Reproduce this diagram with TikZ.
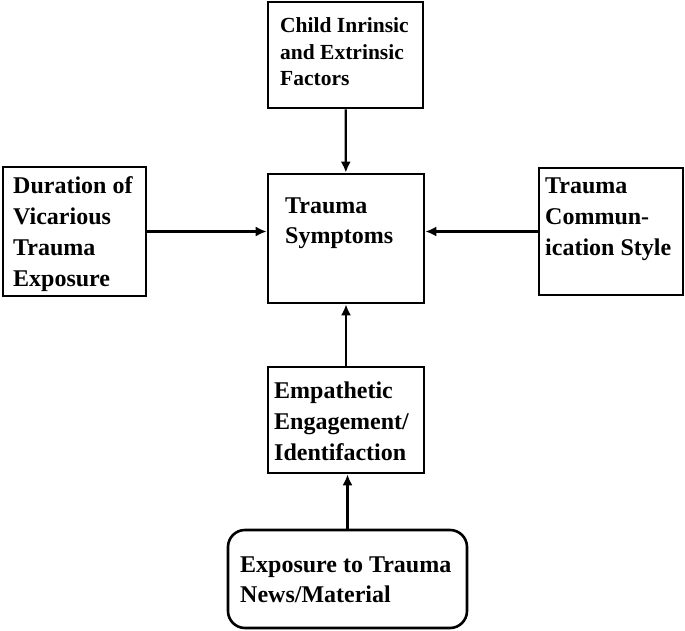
\documentclass[tikz,border=0pt]{standalone}
\usepackage{fontspec}
\setmainfont{Liberation Serif}
\usetikzlibrary{arrows.meta}
\begin{document}
\begin{tikzpicture}[x=1pt,y=-1pt,
  box/.style={draw, line width=2.6pt, inner sep=0pt},
  lbl/.style={inner sep=0pt, align=left, anchor=base west, font=\bfseries\fontsize{24}{31}\selectfont},
  arr/.style={line width=2.2pt, -{Latex[length=11pt,width=10pt]}}]
\useasboundingbox (0,0) rectangle (685,631);
% boxes
\node[box, minimum width=155, minimum height=106] (top) at (345.5,55) {};
\node[box, minimum width=143, minimum height=129] (left) at (74.5,231.5) {};
\node[box, minimum width=144, minimum height=127] (right) at (611,231.5) {};
\node[box, minimum width=156, minimum height=129] (center) at (346,238.5) {};
\node[box, minimum width=156, minimum height=106] (emp) at (346,420) {};
\node[box, rounded corners=17pt, minimum width=239, minimum height=98] (bottom) at (347.5,579) {};
% texts (base anchor = baseline of last line)
\node[lbl, font=\bfseries\fontsize{21.5}{26.5}\selectfont] (topT) at (280,86) {Child Inrinsic\\and Extrinsic\\Factors};
\node[lbl] (leftT) at (13,286) {Duration of\\Vicarious\\Trauma\\Exposure};
\node[lbl] (rightT) at (545,255) {Trauma\\Commun-\\ication Style};
\node[lbl, font=\bfseries\fontsize{24}{30}\selectfont] (centerT) at (285,243) {Trauma\\Symptoms};
\node[lbl] (empT) at (274,460) {Empathetic\\Engagement/\\Identifaction};
\node[lbl, font=\bfseries\fontsize{24}{30}\selectfont] (bottomT) at (240,602) {Exposure to Trauma\\News/Material};
% connectors
\draw[arr] (top) -- (center);
\draw[arr] (left.east) -- (left.east -| center.west);
\draw[arr] (right.west) -- (right.west -| center.east);
\draw[arr] (emp.north) -- (center.south);
\draw[arr] (bottom.north) -- (bottom.north |- emp.south);
\end{tikzpicture}
\end{document}
